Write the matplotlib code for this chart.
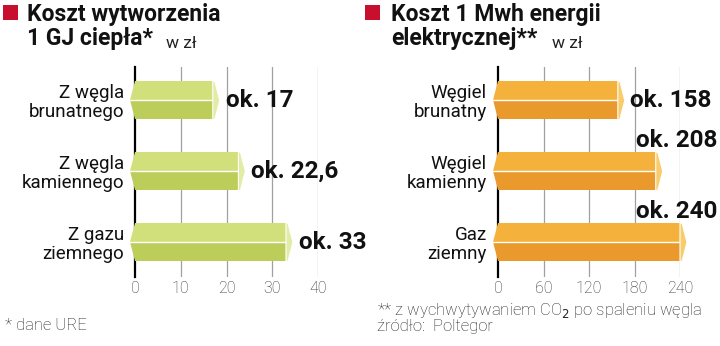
import matplotlib
matplotlib.use("Agg")
import matplotlib.pyplot as plt
from matplotlib.patches import Polygon
from matplotlib.transforms import blended_transform_factory

plt.rcParams['font.family'] = ['Roboto', 'DejaVu Sans']

# dane
heat_labels = ["Z węgla\nbrunatnego", "Z węgla\nkamiennego", "Z gazu\nziemnego"]
heat_values = [17, 22.6, 33]
heat_texts = ["ok. 17", "ok. 22,6", "ok. 33"]
heat_ticks = [0, 10, 20, 30, 40]

power_labels = ["Węgiel\nbrunatny", "Węgiel\nkamienny", "Gaz\nziemny"]
power_values = [158, 208, 240]
power_texts = ["ok. 158", "ok. 208", "ok. 240"]
power_ticks = [0, 60, 120, 180, 240]

W, H = 720, 346
fig = plt.figure(figsize=(W / 100, H / 100), dpi=100)


def px_axes(x0, x1, y0, y1):
    # prostokat w pikselach (od gory) -> wspolrzedne figury
    return fig.add_axes([x0 / W, 1 - y1 / H, (x1 - x0) / W, (y1 - y0) / H])


def draw_bar(ax, y, v, ppx, top_c, bot_c, cap_c, h=0.54):
    # belka 3D: gorna jasna polowa, dolna ciemniejsza, skosna koncowka
    pt = 5 * ppx
    cap = 7 * ppx
    top = y - h / 2
    bot = y + h / 2
    ax.add_patch(Polygon([(0, top), (v, top), (v, y), (-pt, y)],
                         closed=True, fc=top_c, ec='none', zorder=3, clip_on=False))
    ax.add_patch(Polygon([(-pt, y), (v, y), (v, bot), (0, bot)],
                         closed=True, fc=bot_c, ec='none', zorder=3, clip_on=False))
    ax.plot([-pt, v], [y, y], color='white', lw=1.0, zorder=4, clip_on=False)
    ax.add_patch(Polygon([(v, top), (v + 2 * ppx, top), (v + cap, y),
                          (v + 2 * ppx, bot), (v, bot)],
                         closed=True, fc=cap_c, ec='white', lw=0.8, zorder=5, clip_on=False))


def setup(ax, labels, ticks, xmax):
    ax.set_xlim(0, xmax)
    ax.set_ylim(2.49, -0.47)
    ax.set_yticks(range(len(labels)))
    ax.set_yticklabels(labels, fontsize=13.5, linespacing=1.05, color='#111111')
    ax.set_xticks(ticks)
    ax.set_xticklabels([str(t) for t in ticks], fontsize=11.5, color='#333333',
                       fontweight='light')
    ax.tick_params(axis='both', length=0)
    ax.tick_params(axis='y', pad=8)
    ax.tick_params(axis='x', pad=3)
    for s in ['top', 'right', 'bottom']:
        ax.spines[s].set_visible(False)
    ax.spines['left'].set_linewidth(1.6)
    ax.spines['left'].set_color('black')
    for t in ticks[1:]:
        ax.axvline(t, color='#a0a0a0', lw=0.9, zorder=1)


# lewy wykres - cieplo
ax1 = px_axes(135, 318, 67, 277)
setup(ax1, heat_labels, heat_ticks, 40)
ppx1 = 40 / (318 - 135)
for i, v in enumerate(heat_values):
    draw_bar(ax1, i, v, ppx1, '#d2e07c', '#bccd5a', '#e2eca6')
    ax1.text(v + 13 * ppx1, i, heat_texts[i], fontsize=17.5, fontweight='bold',
             va='center', ha='left', color='#111111', clip_on=False)

# prawy wykres - energia elektryczna
ax2 = px_axes(498, 680, 67, 277)
setup(ax2, power_labels, power_ticks, 240)
ppx2 = 240 / (680 - 498)
fig_x = blended_transform_factory(fig.transFigure, ax2.transData)
for i, v in enumerate(power_values):
    draw_bar(ax2, i, v, ppx2, '#f4b23c', '#ea9a2c', '#f8cc6c')
    if i == 0:
        ax2.text(v + 12 * ppx2, i, power_texts[i], fontsize=17.5, fontweight='bold',
                 va='center', ha='left', color='#111111', clip_on=False)
    else:
        ax2.text(717 / W, i - 0.43, power_texts[i], fontsize=17.5, fontweight='bold',
                 va='center', ha='right', color='#111111', transform=fig_x)

# tytuly
fig.patches.append(plt.Rectangle((3 / W, 1 - 20 / H), 15 / W, 15 / H,
                                 transform=fig.transFigure, fc='#c8102e', ec='none'))
fig.patches.append(plt.Rectangle((365 / W, 1 - 20 / H), 15 / W, 15 / H,
                                 transform=fig.transFigure, fc='#c8102e', ec='none'))
fig.text(27 / W, 1 - 14 / H, "Koszt wytworzenia", fontsize=16.5, fontweight='bold',
         va='center', ha='left', color='#111111')
fig.text(27 / W, 1 - 39 / H, "1 GJ ciepła*", fontsize=16.5, fontweight='bold',
         va='center', ha='left', color='#111111')
fig.text(166 / W, 1 - 43 / H, "w zł", fontsize=12.5, va='center', ha='left', color='#222222')
fig.text(391 / W, 1 - 14 / H, "Koszt 1 Mwh energii", fontsize=16.5, fontweight='bold',
         va='center', ha='left', color='#111111')
fig.text(391 / W, 1 - 39 / H, "elektrycznej**", fontsize=16.5, fontweight='bold',
         va='center', ha='left', color='#111111')
fig.text(552 / W, 1 - 43 / H, "w zł", fontsize=12.5, va='center', ha='left', color='#222222')

# przypisy
fig.text(5 / W, 1 - 326 / H, "* dane URE", fontsize=12, fontweight='light',
         va='center', ha='left', color='#222222')
fig.text(377 / W, 1 - 311 / H, "** z wychwytywaniem CO$_2$ po spaleniu węgla",
         fontsize=12, fontweight='light', va='center', ha='left', color='#222222')
fig.text(377 / W, 1 - 327 / H, "źródło:  Poltegor", fontsize=12, fontweight='light',
         va='center', ha='left', color='#222222')

fig.savefig("out.png", dpi=100)
